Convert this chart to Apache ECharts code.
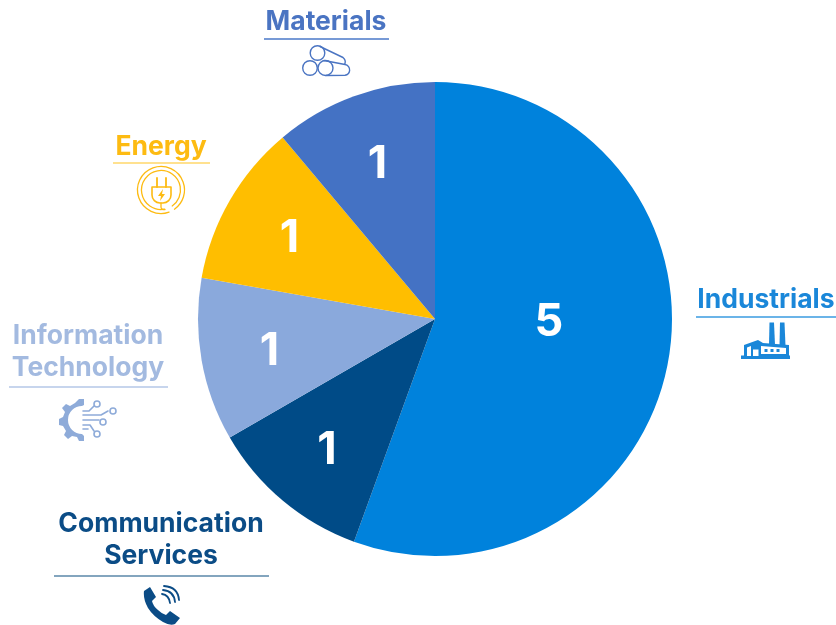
<!DOCTYPE html>
<html>
<head>
<meta charset="utf-8">
<style>html,body{margin:0;padding:0;background:#fff}#chart{width:836px;height:625px}</style>
<script src="https://cdn.jsdelivr.net/npm/echarts@6/dist/echarts.min.js"></script>
</head>
<body>
<div id="chart"></div>
<script>
// Number of holdings per sector, clockwise from twelve o'clock
const sectors = ['Industrials', 'Communication Services', 'Information Technology', 'Energy', 'Materials'];
const holdings = [5, 1, 1, 1, 1];
const sliceColors = ['#0082DC', '#004B87', '#8AA9DC', '#FFBE00', '#4472C4'];
const headingLines = [['Industrials'], ['Communication', 'Services'], ['Information', 'Technology'], ['Energy'], ['Materials']];
const headingColors = ['#1A87D9', '#0B4C86', '#A3BAE0', '#FDBB12', '#4A74C2'];
const ruleColors = ['#3A9BE0', '#5A87A8', '#B4C7E7', '#FFD76A', '#4A78C8'];

const center = [435, 319];
const radius = 237;

// Heading anchor (centre x, first baseline), rule (x0, x1, y)
const headingPlace = [
  { x: 766, y: 308, rule: [696, 836, 317] },
  { x: 161, y: 532, rule: [54, 269, 576] },
  { x: 88, y: 344, rule: [9, 168, 387] },
  { x: 161, y: 155, rule: [113, 210, 163] },
  { x: 326, y: 30, rule: [264, 389, 39] }
];

const fontFamily = 'Inter, Roboto, "Liberation Sans", sans-serif';
const headingSize = 26.5;

function heading(i) {
  const p = headingPlace[i];
  const parts = headingLines[i].map((line, k) => ({
    type: 'text',
    x: p.x,
    y: p.y + k * 32 + 6,
    style: {
      text: line,
      fill: headingColors[i],
      font: 'bold ' + headingSize + 'px ' + fontFamily,
      textAlign: 'center',
      textVerticalAlign: 'bottom'
    }
  }));
  parts.push({
    type: 'line',
    shape: { x1: p.rule[0], y1: p.rule[2], x2: p.rule[1], y2: p.rule[2] },
    style: { stroke: ruleColors[i], lineWidth: 1.5 }
  });
  return parts;
}

// Pictogram outlines are registered as named shapes for the graphic component
let shapeCount = 0;
function pathShape(pathData) {
  const name = 'pictogram' + (shapeCount++);
  echarts.graphic.registerShape(name, echarts.graphic.extendPath(pathData, {}));
  return name;
}
function outline(pathData, color, width) {
  return { type: pathShape(pathData), style: { fill: 'none', stroke: color, lineWidth: width, lineCap: 'round', lineJoin: 'round' } };
}
function solid(pathData, color) {
  return { type: pathShape(pathData), style: { fill: color, stroke: 'none' } };
}
function ring(cx, cy, r, color, width, gapFrom, gapTo) {
  return {
    type: 'arc',
    shape: { cx: cx, cy: cy, r: r, startAngle: (gapTo || 0) * Math.PI / 180, endAngle: (gapFrom === undefined ? 360 : gapFrom + 360) * Math.PI / 180, clockwise: true },
    style: { fill: 'none', stroke: color, lineWidth: width, lineCap: 'round' }
  };
}

function factoryIcon() {
  const c = headingColors[0];
  return [
    solid('M741 355.5H790V359H741Z', c),
    solid('M769.5 322.5H774L775 345H769Z', c),
    solid('M780 322.5H784.5L785.5 346H779.5Z', c),
    solid('M744 356V345L758 340L763 343L789 345V356Z', c),
    solid('M747 356V347.5L751 346V356Z M753 356V349.5H758.5V356Z M761 354V346L786 348V354Z', '#ffffff'),
    solid('M764.5 349H767.5V352H764.5Z M770.5 349H773.5V352H770.5Z M776.5 349H779.5V352H776.5Z', c)
  ];
}

function materialsIcon() {
  const c = headingColors[4];
  const w = 1.4;
  return [
    ring(310, 68, 7.3, c, w),
    ring(325.5, 68, 7.5, c, w),
    ring(317.5, 53, 7.3, c, w),
    outline('M320 46.5L343 57.5Q346 60 345 63.5M324 60.5L345 64.5A5.4 5.4 0 0 1 345 75.2L326 75.5', c, w)
  ];
}

function energyIcon() {
  const c = headingColors[3];
  return [
    ring(161, 190, 23.5, c, 1.3, 55, 70),
    ring(161, 190, 19.5, c, 1.3, 55, 80),
    outline('M157 178V187M166 178V187', c, 1.8),
    outline('M152 187H171V195A8 8 0 0 1 163 203H160A8 8 0 0 1 152 195Z', c, 1.6),
    outline('M161 203V207Q161 210 165 209.5', c, 1.3),
    solid('M163 189L158 196H161L160 201L165 194H162Z', c)
  ];
}

function techIcon() {
  const c = '#8EABD9';
  const w = 1.6;
  const gear = 'M79 399L84 399L84 405A15 15 0 0 0 82 406A12 12 0 0 0 82 434L84 436V441L79 441L77 437L72 436L68 439L64 435L66 431L63 426L59 425V419L63 417L65 412L62 408L66 404L70 406L75 403Z';
  return [
    solid(gear, c),
    outline('M83 411H89L94 406', c, w),
    outline('M83 415H101L108 411', c, w),
    outline('M83 420H99', c, w),
    outline('M83 425H90L94 431', c, w),
    outline('M83 429H88', c, w),
    ring(97, 404, 3, c, w),
    ring(113, 411, 3, c, w),
    ring(103, 422, 3, c, w),
    ring(97, 434, 3, c, w)
  ];
}

function phoneIcon() {
  const c = headingColors[1];
  return [
    solid('M144 591L150 587L156 597L152 601Q153 606 158 610Q162 614 166 615L170 611L180 618L175 624Q170 626 163 622Q153 616 148 608Q143 599 144 591Z', c),
    outline('M162 594Q169 595 170 603', c, 1.8),
    outline('M163 590Q174 591 175 602', c, 1.8),
    outline('M164 586Q178 587 179 600', c, 1.8)
  ];
}

const graphics = [];
sectors.forEach((_, i) => graphics.push(...heading(i)));
graphics.push(...factoryIcon(), ...materialsIcon(), ...energyIcon(), ...techIcon(), ...phoneIcon());

// Count labels sit further out in the small slices and due east in the large one
const total = holdings.reduce((a, b) => a + b, 0);
function labelPoint(index) {
  let before = 0;
  for (let k = 0; k < index; k++) before += holdings[k];
  const large = holdings[index] / total > 0.5;
  const angle = large ? Math.PI / 2 : (before + holdings[index] / 2) / total * 2 * Math.PI;
  const r = large ? 114 : 168;
  return { x: center[0] + r * Math.sin(angle), y: center[1] - r * Math.cos(angle) + 3 };
}

const chart = echarts.init(document.getElementById('chart'), null, { renderer: 'canvas' });
chart.setOption({
  animation: false,
  backgroundColor: '#ffffff',
  series: [{
    type: 'pie',
    center: center,
    radius: [0, radius],
    startAngle: 90,
    clockwise: true,
    silent: true,
    data: sectors.map((name, i) => ({ name: name, value: holdings[i], itemStyle: { color: sliceColors[i] } })),
    itemStyle: { borderWidth: 0 },
    label: {
      show: true,
      position: 'inside',
      formatter: '{c}',
      color: '#ffffff',
      fontFamily: fontFamily,
      fontWeight: 'bold',
      fontSize: 45
    },
    labelLine: { show: false },
    labelLayout: function (params) {
      return labelPoint(params.dataIndex);
    }
  }],
  graphic: { elements: graphics }
});
</script>
</body>
</html>
